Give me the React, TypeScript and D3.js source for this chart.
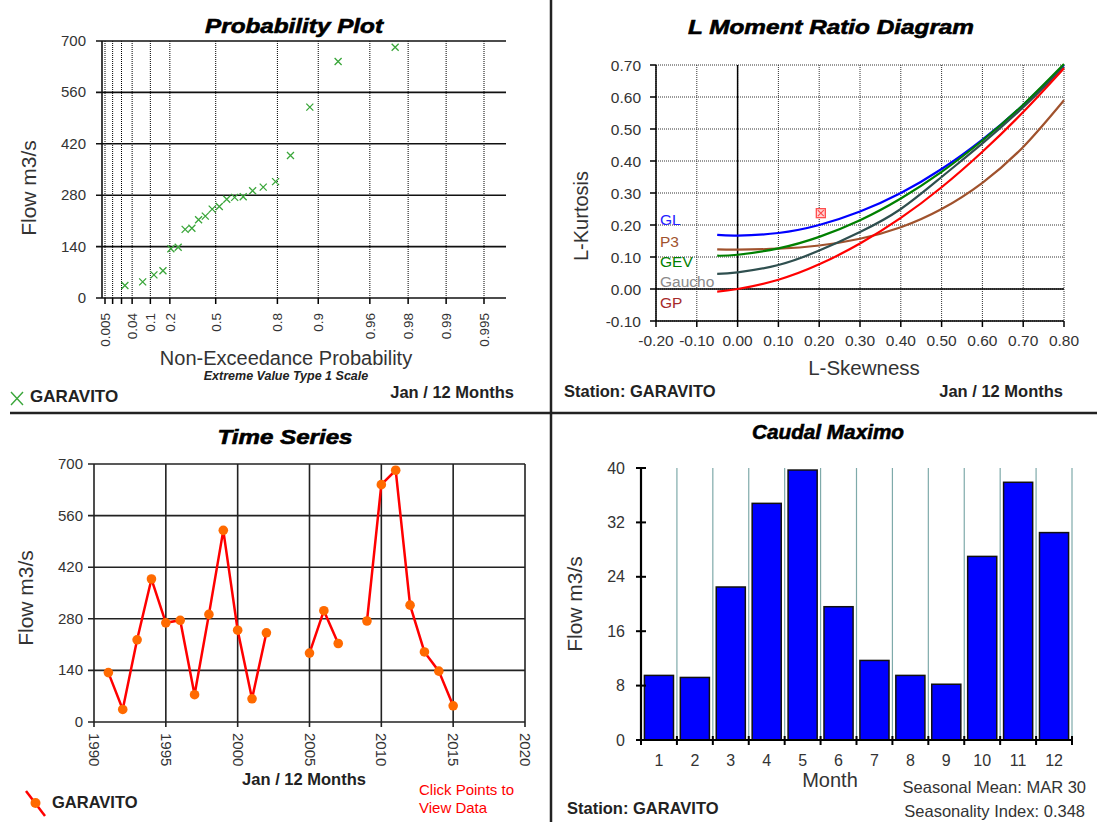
import * as d3 from "d3";

const FONT = "'Liberation Sans', Arial, sans-serif";

// annual series, Jan / 12 months (null = no data)
const years = [
  1991, 1992, 1993, 1994, 1995, 1996, 1997, 1998, 1999, 2000, 2001, 2002, 2003,
  2004, 2005, 2006, 2007, 2008, 2009, 2010, 2011, 2012, 2013, 2014, 2015,
];
const flows: (number | null)[] = [
  134, 34, 223, 388, 269, 276, 74, 292, 520, 249, 63, 242, null, null, 187, 302,
  213, null, 274, 644, 683, 317, 190, 138, 44,
];
const flowTicks = [0, 140, 280, 420, 560, 700];
const yearTicks = [1990, 1995, 2000, 2005, 2010, 2015, 2020];

// probability plot axis
const probTicks = [0.005, 0.01, 0.02, 0.04, 0.1, 0.2, 0.5, 0.8, 0.9, 0.96, 0.98, 0.99, 0.995];
const probLabels = ["0.005", "", "", "0.04", "0.1", "0.2", "0.5", "0.8", "0.9", "0.96", "0.98", "0.99", "0.995"];

// L moment ratio curves
const skewPts = [-0.05, 0, 0.1, 0.2, 0.3, 0.4, 0.5, 0.6, 0.7, 0.8];
const glKurt = [0.169, 0.167, 0.175, 0.2, 0.242, 0.3, 0.375, 0.467, 0.575, 0.7];
const p3Kurt = [0.124, 0.123, 0.126, 0.136, 0.157, 0.193, 0.25, 0.332, 0.444, 0.59];
const gevKurt = [0.104, 0.107, 0.127, 0.163, 0.215, 0.283, 0.366, 0.464, 0.576, 0.703];
const gauchoKurt = [0.047, 0.052, 0.075, 0.12, 0.178, 0.25, 0.35, 0.455, 0.568, 0.693];
const gpKurt = [-0.008, 0, 0.029, 0.077, 0.142, 0.222, 0.318, 0.429, 0.553, 0.69];
const curveNames = ["GL", "P3", "GEV", "Gaucho", "GP"];
const curveColors = ["#0000ff", "#a0522d", "#008000", "#2f4f4f", "#ff0000"];
const labelColors = ["#2222ff", "#a0522d", "#008000", "#8a8a8a", "#a52a2a"];
const skewTicks = [-0.2, -0.1, 0, 0.1, 0.2, 0.3, 0.4, 0.5, 0.6, 0.7, 0.8];
const kurtTicks = [-0.1, 0, 0.1, 0.2, 0.3, 0.4, 0.5, 0.6, 0.7];
const stationSkew = 0.204;
const stationKurt = 0.237;

// monthly maximum
const months = ["1", "2", "3", "4", "5", "6", "7", "8", "9", "10", "11", "12"];
const monthMax = [9.5, 9.2, 22.5, 34.8, 39.7, 19.6, 11.7, 9.5, 8.2, 27, 37.9, 30.5];
const barTicks = [0, 8, 16, 24, 32, 40];

const gumbel = (p: number) => -Math.log(-Math.log(p));

function Title({ x, y, w, text }: { x: number; y: number; w: number; text: string }) {
  return (
    <text
      x={x}
      y={y}
      textAnchor="middle"
      fontFamily={FONT}
      fontSize={20}
      fontWeight="bold"
      fontStyle="italic"
      textLength={w}
      lengthAdjust="spacingAndGlyphs"
      stroke="#000"
      strokeWidth={0.6}
    >
      {text}
    </text>
  );
}

function VTitle({ x, y, text, size = 21 }: { x: number; y: number; text: string; size?: number }) {
  return (
    <text
      transform={`translate(${x},${y}) rotate(-90)`}
      textAnchor="middle"
      fontFamily={FONT}
      fontSize={size}
      fill="#333"
    >
      {text}
    </text>
  );
}

function ProbabilityPlot() {
  const x = d3.scaleLinear().domain([gumbel(0.005), gumbel(0.995)]).range([105, 484]);
  const y = d3.scaleLinear().domain([0, 700]).range([298, 41]);
  const sorted = flows.filter((d): d is number => d != null).sort((a, b) => a - b);
  const n = sorted.length;
  // Gringorten plotting positions
  const pts = sorted.map((v, i) => ({ p: (i + 1 - 0.44) / (n + 0.12), v }));
  const s = 3.5;
  return (
    <g>
      <Title x={294} y={33} w={178} text="Probability Plot" />
      {probTicks.map((p, i) => (
        <g key={i}>
          <line x1={x(gumbel(p))} x2={x(gumbel(p))} y1={41} y2={298} stroke="#000" strokeDasharray="1,1" />
          <line x1={x(gumbel(p))} x2={x(gumbel(p))} y1={298} y2={304} stroke="#000" strokeWidth={1.5} />
          {probLabels[i] && (
            <text
              transform={`translate(${x(gumbel(p)) + 5},313) rotate(-90)`}
              textAnchor="end"
              fontFamily={FONT}
              fontSize={13.5}
              fill="#333"
            >
              {probLabels[i]}
            </text>
          )}
        </g>
      ))}
      {flowTicks.map((t) => (
        <g key={t}>
          <line x1={96} x2={506} y1={y(t)} y2={y(t)} stroke="#111" strokeWidth={1.6} />
          <text x={86} y={y(t) + 5} textAnchor="end" fontFamily={FONT} fontSize={15} fill="#333">
            {t}
          </text>
        </g>
      ))}
      <line x1={102} x2={102} y1={41} y2={298} stroke="#111" strokeWidth={1.6} />
      {pts.map((d, i) => {
        const cx = x(gumbel(d.p));
        const cy = y(d.v);
        return (
          <path
            key={i}
            d={`M${cx - s},${cy - s}L${cx + s},${cy + s}M${cx - s},${cy + s}L${cx + s},${cy - s}`}
            stroke="#3aa63a"
            strokeWidth={1.3}
          />
        );
      })}
      <VTitle x={36} y={188} text="Flow m3/s" />
      <text x={286} y={365} textAnchor="middle" fontFamily={FONT} fontSize={20} fill="#333">
        Non-Exceedance Probability
      </text>
      <text x={286} y={380} textAnchor="middle" fontFamily={FONT} fontSize={12.5} fontWeight="bold" fontStyle="italic" fill="#222">
        Extreme Value Type 1 Scale
      </text>
      <path d="M11,392L23,405M11,405L23,392" stroke="#3aa63a" strokeWidth={1.4} />
      <text x={30} y={402} fontFamily={FONT} fontSize={17} fontWeight="bold" fill="#222">
        GARAVITO
      </text>
      <text x={514} y={398} textAnchor="end" fontFamily={FONT} fontSize={16.5} fontWeight="bold" fill="#222">
        Jan / 12 Months
      </text>
    </g>
  );
}

function LMomentDiagram() {
  const x = d3.scaleLinear().domain([-0.2, 0.8]).range([656, 1064]);
  const y = d3.scaleLinear().domain([-0.1, 0.7]).range([321, 65]);
  const series = [glKurt, p3Kurt, gevKurt, gauchoKurt, gpKurt];
  const line = d3
    .line<number>()
    .x((_, i) => x(skewPts[i]))
    .y((d) => y(d))
    .curve(d3.curveNatural);
  const labelY = [225, 247, 267, 287, 308];
  const mx = x(stationSkew);
  const my = y(stationKurt);
  return (
    <g>
      <Title x={831} y={34} w={286} text="L Moment Ratio Diagram" />
      {skewTicks.map((t) => (
        <g key={t}>
          <line x1={x(t)} x2={x(t)} y1={65} y2={321} stroke="#333" strokeDasharray="1,1" />
          <line x1={x(t)} x2={x(t)} y1={321} y2={327} stroke="#000" strokeWidth={1.5} />
          <text x={x(t)} y={346} textAnchor="middle" fontFamily={FONT} fontSize={15.5} fill="#333">
            {t.toFixed(2)}
          </text>
        </g>
      ))}
      {kurtTicks.map((t) => (
        <g key={t}>
          <line x1={656} x2={1064} y1={y(t)} y2={y(t)} stroke="#333" strokeDasharray="1,1" />
          <line x1={650} x2={656} y1={y(t)} y2={y(t)} stroke="#000" strokeWidth={1.5} />
          <text x={641} y={y(t) + 5.5} textAnchor="end" fontFamily={FONT} fontSize={15.5} fill="#333">
            {t.toFixed(2)}
          </text>
        </g>
      ))}
      <line x1={656} x2={656} y1={65} y2={321} stroke="#000" strokeWidth={1.5} />
      <line x1={656} x2={1064} y1={321} y2={321} stroke="#000" strokeWidth={1.5} />
      <line x1={x(0)} x2={x(0)} y1={65} y2={321} stroke="#000" strokeWidth={1.5} />
      <line x1={656} x2={1064} y1={y(0)} y2={y(0)} stroke="#000" strokeWidth={1.5} />
      {series.map((s, i) => (
        <path key={i} d={line(s) || ""} fill="none" stroke={curveColors[i]} strokeWidth={2.2} />
      ))}
      {curveNames.map((nm, i) => (
        <text key={nm} x={660} y={labelY[i]} fontFamily={FONT} fontSize={15.5} fill={labelColors[i]}>
          {nm}
        </text>
      ))}
      <rect x={mx - 4.5} y={my - 4.5} width={9} height={9} fill="#ffd6d6" stroke="#ff4d4d" strokeWidth={1.3} />
      <path d={`M${mx - 3},${my - 3}L${mx + 3},${my + 3}M${mx - 3},${my + 3}L${mx + 3},${my - 3}`} stroke="#ff4d4d" strokeWidth={1.2} />
      <VTitle x={588} y={216} text="L-Kurtosis" size={20} />
      <text x={864} y={375} textAnchor="middle" fontFamily={FONT} fontSize={20.5} fill="#333">
        L-Skewness
      </text>
      <text x={564} y={397} fontFamily={FONT} fontSize={16.5} fontWeight="bold" fill="#222">
        Station: GARAVITO
      </text>
      <text x={1063} y={397} textAnchor="end" fontFamily={FONT} fontSize={16.5} fontWeight="bold" fill="#222">
        Jan / 12 Months
      </text>
    </g>
  );
}

function TimeSeries() {
  const x = d3.scaleLinear().domain([1990, 2020]).range([94, 525]);
  const y = d3.scaleLinear().domain([0, 700]).range([722, 464]);
  const data = years.map((yr, i) => ({ yr, v: flows[i] }));
  const line = d3
    .line<{ yr: number; v: number | null }>()
    .defined((d) => d.v != null)
    .x((d) => x(d.yr))
    .y((d) => y(d.v as number));
  return (
    <g>
      <Title x={285} y={444} w={135} text="Time Series" />
      {flowTicks.map((t) => (
        <g key={t}>
          <line x1={88} x2={525} y1={y(t)} y2={y(t)} stroke="#222" strokeWidth={1.6} />
          <text x={83} y={y(t) + 5} textAnchor="end" fontFamily={FONT} fontSize={15} fill="#333">
            {t}
          </text>
        </g>
      ))}
      {yearTicks.map((t) => (
        <g key={t}>
          <line x1={x(t)} x2={x(t)} y1={464} y2={727} stroke="#222" strokeWidth={1.6} />
          <text
            transform={`translate(${x(t) - 5},733) rotate(90)`}
            fontFamily={FONT}
            fontSize={15}
            fill="#333"
          >
            {t}
          </text>
        </g>
      ))}
      <path d={line(data) || ""} fill="none" stroke="#ff0000" strokeWidth={2.5} />
      {data
        .filter((d) => d.v != null)
        .map((d) => (
          <circle key={d.yr} cx={x(d.yr)} cy={y(d.v as number)} r={4.8} fill="#ff6a00" />
        ))}
      <VTitle x={33} y={598} text="Flow m3/s" />
      <text x={304} y={785} textAnchor="middle" fontFamily={FONT} fontSize={16.5} fontWeight="bold" fill="#222">
        Jan / 12 Months
      </text>
      <line x1={26} x2={45} y1={791} y2={816} stroke="#ff0000" strokeWidth={2.5} />
      <circle cx={35.5} cy={803} r={5} fill="#ff6a00" />
      <text x={52} y={808} fontFamily={FONT} fontSize={16.5} fontWeight="bold" fill="#222">
        GARAVITO
      </text>
      <text x={419} y={795} fontFamily={FONT} fontSize={15} fill="#ff0000">
        Click Points to
      </text>
      <text x={419} y={813} fontFamily={FONT} fontSize={15} fill="#ff0000">
        View Data
      </text>
    </g>
  );
}

function MonthlyBars() {
  const x = d3.scaleBand<string>().domain(months).range([641, 1072]).paddingInner(0.19).paddingOuter(0.095);
  const y = d3.scaleLinear().domain([0, 40]).range([740, 468]);
  const step = x.step();
  const bounds = months.map((_, i) => 641 + step * (i + 1));
  return (
    <g>
      <Title x={828} y={439} w={152} text="Caudal Maximo" />
      {bounds.map((b, i) => (
        <line key={i} x1={b} x2={b} y1={468} y2={740} stroke="#7faaaa" strokeWidth={1.2} />
      ))}
      {months.map((m, i) => (
        <rect
          key={m}
          x={x(m)}
          y={y(monthMax[i])}
          width={x.bandwidth()}
          height={740 - y(monthMax[i])}
          fill="#0000ff"
          stroke="#111"
          strokeWidth={1.5}
        />
      ))}
      {barTicks.map((t) => (
        <g key={t}>
          <line x1={636} x2={646} y1={y(t)} y2={y(t)} stroke="#000" strokeWidth={2} />
          <text x={625} y={y(t) + 5.5} textAnchor="end" fontFamily={FONT} fontSize={16} fill="#333">
            {t}
          </text>
        </g>
      ))}
      <line x1={641} x2={641} y1={468} y2={740} stroke="#000" strokeWidth={2.2} />
      <line x1={641} x2={1072} y1={740} y2={740} stroke="#000" strokeWidth={2.2} />
      {[641, ...bounds].map((b, i) => (
        <line key={i} x1={b} x2={b} y1={736} y2={745} stroke="#000" strokeWidth={2} />
      ))}
      {months.map((m) => (
        <text key={m} x={(x(m) as number) + x.bandwidth() / 2} y={766} textAnchor="middle" fontFamily={FONT} fontSize={16} fill="#333">
          {m}
        </text>
      ))}
      <text x={830} y={787} textAnchor="middle" fontFamily={FONT} fontSize={20} fill="#333">
        Month
      </text>
      <VTitle x={582} y={604} text="Flow m3/s" />
      <text x={567} y={814} fontFamily={FONT} fontSize={16.5} fontWeight="bold" fill="#222">
        Station: GARAVITO
      </text>
      <text x={1086} y={793} textAnchor="end" fontFamily={FONT} fontSize={16.5} fill="#333">
        Seasonal Mean: MAR 30
      </text>
      <text x={1085} y={817} textAnchor="end" fontFamily={FONT} fontSize={16.5} fill="#333">
        Seasonality Index: 0.348
      </text>
    </g>
  );
}

export default function App() {
  return (
    <svg
      width={1097}
      height={822}
      style={{ position: "absolute", left: 0, top: 0, background: "#fff" }}
    >
      <rect width={1097} height={822} fill="#fff" />
      <ProbabilityPlot />
      <LMomentDiagram />
      <TimeSeries />
      <MonthlyBars />
      <line x1={551} x2={551} y1={0} y2={822} stroke="#222" strokeWidth={2.5} />
      <line x1={10} x2={1097} y1={413} y2={413} stroke="#222" strokeWidth={2.5} />
    </svg>
  );
}
